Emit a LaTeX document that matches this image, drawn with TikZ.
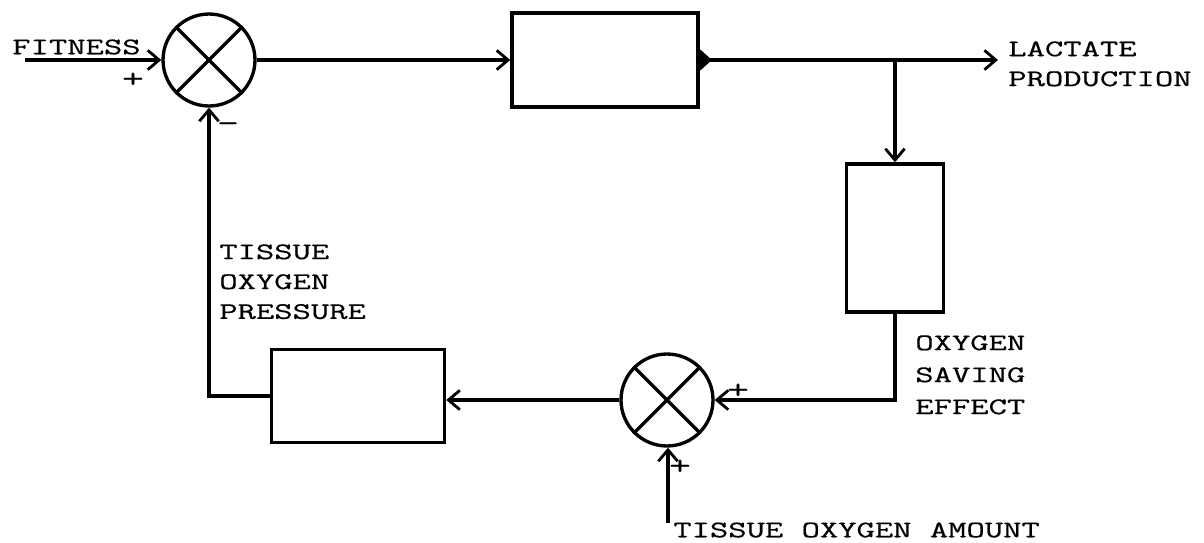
\documentclass[tikz,border=0pt]{standalone}
\usepackage{fontspec}
\newfontfamily\diagfont[FakeStretch=1.5, FakeBold=0.6]{Latin Modern Mono}
\usetikzlibrary{arrows.meta, positioning, calc}

\begin{document}
\begin{tikzpicture}[
    x=0.02cm, y=-0.02cm,
    >={Straight Barb[length=6.5pt, width=11pt, line width=1.6pt]},
    every node/.style={font=\diagfont\fontsize{13.5}{17}\selectfont},
    block/.style={draw=black, line width=2pt, inner sep=0pt},
    sumjunc/.style={draw=black, line width=1.9pt, circle, minimum size=1.84cm, inner sep=0pt},
    label/.style={inner sep=0pt, align=left},
    sign/.style={inner sep=0pt, font=\diagfont\fontsize{16}{17}\selectfont},
    flow/.style={draw=black, line width=1.9pt, ->}
]
\useasboundingbox (0,0) rectangle (1204,542);

% Summing junctions
\node[sumjunc] (sum1) at (209,60) {};
\node[sumjunc] (sum2) at (667,400) {};
\foreach \s in {sum1, sum2} {
  \draw[line width=1.9pt] (\s.45) -- (\s.225);
  \draw[line width=1.9pt] (\s.135) -- (\s.315);
}

% Blocks
\node[block, minimum width=3.72cm, minimum height=1.88cm] (blk1) at (605,60) {};
\node[block, minimum width=1.94cm, minimum height=2.96cm] (blk2) at (895,238) {};
\node[block, minimum width=3.46cm, minimum height=1.86cm] (blk3) at (358,396) {};

% Labels
\node[label, anchor=west] (fitness) at (12,47) {FITNESS};
\node[label, anchor=north west] (lactate) at (1008,41) {LACTATE\\PRODUCTION};
\node[label, anchor=north west] (pressure) at (219,244) {TISSUE\\OXYGEN\\PRESSURE};
\node[label, anchor=north west, font=\diagfont\fontsize{13.5}{18.2}\selectfont]
    (saving) at (915,335) {OXYGEN\\SAVING\\EFFECT};
\node[label, anchor=west] (amount) at (673,530) {TISSUE OXYGEN AMOUNT};

% Signs
\node[sign] (p1) at (133,80) {+};
\node[sign] (m1) at (228,127) {-};
\node[sign] (p2) at (738,391) {+};
\node[sign] (p3) at (680,467) {+};

% Edges
\coordinate (fitin) at (25,60);
\coordinate (branch) at (blk2.north |- blk1.east);
\coordinate (amtin) at (668,523);
\draw[flow] (fitin) -- (sum1.west);
\draw[flow] (sum1.east) -- (blk1.west);
\draw[line width=1.9pt, {Triangle[reversed, length=7pt, width=12pt]}->]
    (blk1.east) -- ($(lactate.west |- blk1.east)+(-10,0)$);
\draw[flow] (branch) -- (blk2.north);
\draw[flow] (blk2.south) |- (sum2.east);
\draw[flow] (sum2.west) -- (blk3.east |- sum2.west);
\draw[flow] (blk3.west) -| (sum1.south);
\draw[flow] (amtin) -- (amtin |- sum2.south);

\end{tikzpicture}
\end{document}
